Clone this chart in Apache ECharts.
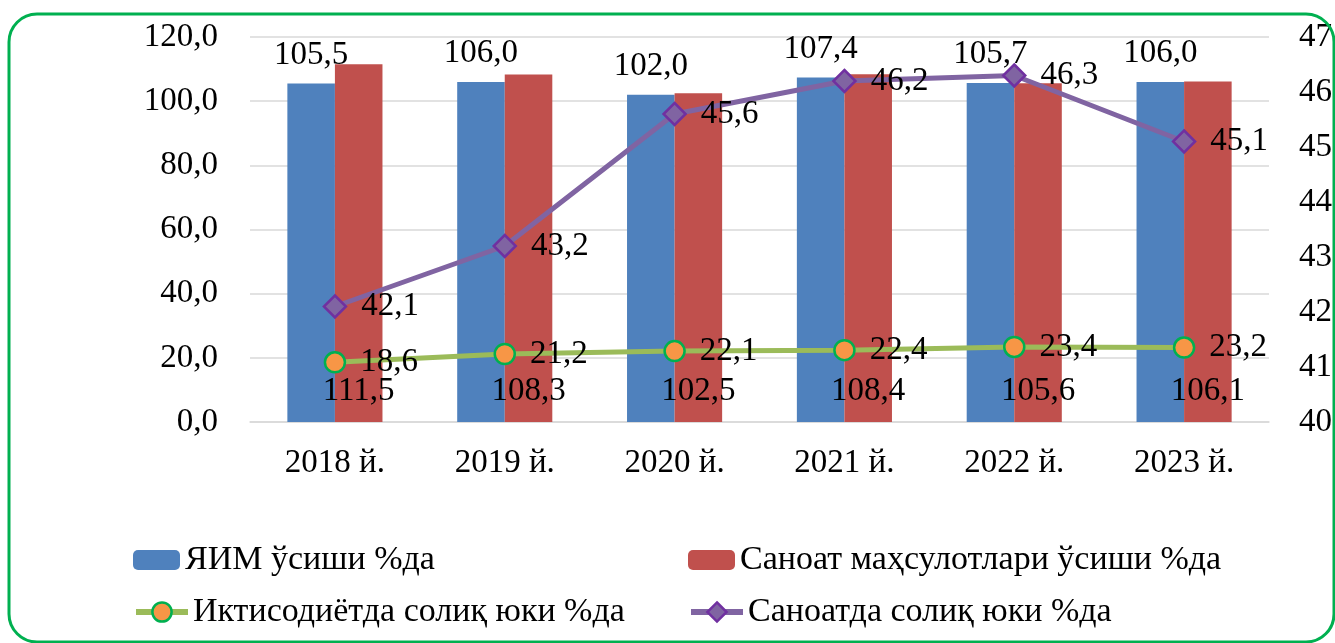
<!DOCTYPE html>
<html><head><meta charset="utf-8">
<script src="https://cdn.jsdelivr.net/npm/echarts@6/dist/echarts.min.js"></script>
<style>html,body{margin:0;padding:0;background:#fff}#c{width:1335px;height:643px}</style>
</head><body><div id="c"></div>
<script>
const categories = ['2018 й.','2019 й.','2020 й.','2021 й.','2022 й.','2023 й.'];
const gdpGrowth = [105.5,106.0,102.0,107.4,105.7,106.0];
const industryGrowth = [111.5,108.3,102.5,108.4,105.6,106.1];
const taxEconomy = [18.6,21.2,22.1,22.4,23.4,23.2];
const taxIndustry = [42.1,43.2,45.6,46.2,46.3,45.1];
const names = ['ЯИМ ўсиши %да','Саноат маҳсулотлари ўсиши %да','Иктисодиётда солиқ юки %да','Саноатда солиқ юки %да'];

const FONT = 'Liberation Serif';
const FS = 33;
const fmt1 = v => Number(v).toFixed(1).replace('.', ',');
const lbl = {fontFamily: FONT, fontSize: FS, color: '#000'};

const chart = echarts.init(document.getElementById('c'));
function lg(name, left, top, w, h) {
  return {data:[name], left:left, top:top, itemWidth:w, itemHeight:h, itemGap:0,
    lineStyle:{width:6}, itemStyle:{borderWidth:2.5},
    textStyle:{fontFamily:FONT, fontSize:34, color:'#000'}, selectedMode:false};
}
chart.setOption({
  animation:false,
  graphic:[{type:'rect', shape:{x:9,y:14,width:1325,height:628,r:28},
    style:{fill:'none', stroke:'#00B050', lineWidth:3}, z:100}],
  legend:[lg(names[0],128,538,47,20), lg(names[1],683,538,47,20), lg(names[2],128,590,52,24), lg(names[3],683,590,52,24)],
  grid:{left:250, right:65, top:37, bottom:221},
  xAxis:{type:'category', data:categories,
    axisLine:{lineStyle:{color:'#D9D9D9', width:1.5}},
    axisTick:{length:10, lineStyle:{color:'#D9D9D9', width:1.5}},
    axisLabel:{...lbl, margin:25}},
  yAxis:[
    {type:'value', min:0, max:120, interval:20,
     axisLabel:{...lbl, margin:32, formatter:fmt1},
     splitLine:{lineStyle:{color:'#D9D9D9', width:1.5}}, axisLine:{show:false}, axisTick:{show:false}},
    {type:'value', min:40, max:47, interval:1, position:'right',
     axisLabel:{...lbl, margin:30}, splitLine:{show:false}, axisLine:{show:false}, axisTick:{show:false}}
  ],
  series:[
    {name:names[0], type:'bar', data:gdpGrowth, barWidth:'28%', barGap:'0%',
     itemStyle:{color:'#4F81BD'},
     label:{show:true, position:'top', distance:12, ...lbl, formatter:p=>fmt1(p.value)}},
    {name:names[1], type:'bar', data:industryGrowth, barWidth:'28%', barGap:'0%',
     itemStyle:{color:'#C0504D'},
     label:{show:true, position:'insideBottom', distance:14, ...lbl, formatter:p=>fmt1(p.value)}, z:3},
    {name:names[2], type:'line', data:taxEconomy, yAxisIndex:0, symbol:'circle', symbolSize:20,
     lineStyle:{color:'#9BBB59', width:5}, itemStyle:{color:'#F79646', borderColor:'#00B050', borderWidth:2.5},
     label:{show:true, position:'right', distance:14, ...lbl, formatter:p=>fmt1(p.value)}, z:5},
    {name:names[3], type:'line', data:taxIndustry, yAxisIndex:1, symbol:'diamond', symbolSize:22,
     lineStyle:{color:'#8064A2', width:5}, itemStyle:{color:'#8064A2', borderColor:'#7030A0', borderWidth:2.5},
     label:{show:true, position:'right', distance:14, ...lbl, formatter:p=>fmt1(p.value)}, z:5}
  ]
});
</script></body></html>
